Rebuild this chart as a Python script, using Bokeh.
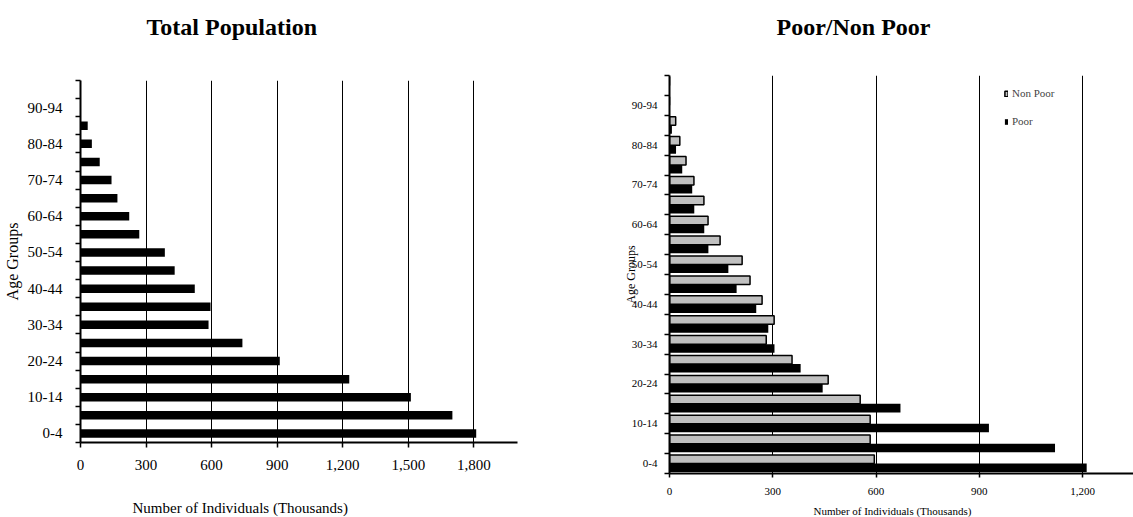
from bokeh.plotting import figure
from bokeh.models import (ColumnDataSource, FixedTicker, Legend, LegendItem,
                          NumeralTickFormatter, Range1d, Title)
from bokeh.layouts import row, column
from bokeh.transform import dodge
from bokeh.embed import file_html
from bokeh.resources import INLINE

# ---------------- data ----------------
age_groups = ["0-4", "5-9", "10-14", "15-19", "20-24", "25-29", "30-34", "35-39",
              "40-44", "45-49", "50-54", "55-59", "60-64", "65-69", "70-74", "75-79",
              "80-84", "85-89", "90-94", "95+"]
total_population = [1811, 1702, 1512, 1230, 912, 741, 586, 595, 523, 431,
                    386, 269, 223, 169, 142, 88, 52, 33, 0, 0]
non_poor = [595, 583, 583, 554, 461, 356, 281, 304, 269, 234,
            211, 147, 112, 100, 71, 48, 30, 18, 0, 0]
poor = [1212, 1120, 928, 671, 445, 381, 305, 287, 252, 195,
        171, 113, 101, 72, 66, 37, 19, 7, 0, 0]
x_ticks_total = [0, 300, 600, 900, 1200, 1500, 1800]
x_ticks_poor = [0, 300, 600, 900, 1200]
x_max_total = 2000
x_max_poor = 1348
title_total = "Total Population"
title_poor = "Poor/Non Poor"
x_title = "Number of Individuals (Thousands)"
y_title = "Age Groups"

n = len(age_groups)
pos = [i + 0.5 for i in range(n)]
src = ColumnDataSource(dict(group=age_groups, pos=pos, total=total_population,
                            non_poor=non_poor, poor=poor))

label_ticks = [pos[i] for i in range(0, n, 2)]
label_overrides = {pos[i]: age_groups[i] for i in range(0, n, 2)}
boundaries = list(range(n + 1))

SERIF = "Liberation Serif"


def style_axes(p, xticks, x_font, y_font, x_out, x_stand, y_stand,
               ylab_font, ylab_stand):
    p.outline_line_color = None
    p.ygrid.visible = False
    p.xgrid.ticker = FixedTicker(ticks=xticks)
    p.xgrid.grid_line_color = "black"
    p.xgrid.grid_line_width = 1

    xa = p.xaxis[0]
    xa.ticker = FixedTicker(ticks=xticks)
    xa.formatter = NumeralTickFormatter(format="0,0")
    xa.axis_line_width = 2
    xa.major_tick_line_width = 1.5
    xa.major_tick_out = x_out
    xa.major_tick_in = 0
    xa.minor_tick_line_color = None
    xa.major_label_text_font = SERIF
    xa.major_label_text_font_size = x_font
    xa.major_label_text_color = "black"
    xa.major_label_standoff = x_stand

    ya = p.yaxis[0]
    ya.ticker = FixedTicker(ticks=label_ticks, minor_ticks=boundaries)
    ya.major_label_overrides = label_overrides
    ya.axis_line_width = 2
    ya.major_tick_out = 0
    ya.major_tick_in = 0
    ya.minor_tick_out = 5
    ya.minor_tick_in = 0
    ya.minor_tick_line_width = 1.5
    ya.minor_tick_line_color = "black"
    ya.major_label_text_font = SERIF
    ya.major_label_text_font_size = y_font
    ya.major_label_text_color = "black"
    ya.major_label_standoff = y_stand
    ya.axis_label = y_title
    ya.axis_label_text_font = SERIF
    ya.axis_label_text_font_style = "normal"
    ya.axis_label_text_font_size = ylab_font
    ya.axis_label_text_color = "black"
    ya.axis_label_standoff = ylab_stand


def spacer(gap):
    return Title(text=" ", text_font_size="1px", standoff=gap)


def add_title(p, text, size, style, offset, place):
    p.add_layout(Title(text=text, text_font=SERIF, text_font_size=size,
                       text_font_style=style, text_color="black",
                       align="left", offset=offset, standoff=0), place)


# ---------------- left: total population ----------------
p1 = figure(width=560, height=517, x_range=Range1d(0, x_max_total), y_range=Range1d(0, n),
            output_backend="svg", toolbar_location=None,
            min_border_left=77, min_border_right=43, min_border_top=80, min_border_bottom=75)
p1.hbar(y="pos", left=0, right="total", height=0.47, source=src,
        fill_color="black", line_color=None)
style_axes(p1, x_ticks_total, "15px", "15px", 5, 12, 13, "16px", 4)
p1.add_layout(spacer(22), "below")
add_title(p1, x_title, "15px", "normal", 52, "below")
p1.add_layout(spacer(38), "above")
add_title(p1, title_total, "24px", "bold", 66, "above")

# ---------------- right: poor / non poor ----------------
p2 = figure(width=573, height=517, x_range=Range1d(0, x_max_poor), y_range=Range1d(0, n),
            output_backend="svg", toolbar_location=None,
            min_border_left=109, min_border_right=0, min_border_top=75, min_border_bottom=44)
r_np = p2.hbar(y=dodge("pos", 0.215), left=0, right="non_poor", height=0.43, source=src,
               fill_color="#C0C0C0", line_color="black", line_width=1.5)
r_p = p2.hbar(y=dodge("pos", -0.215), left=0, right="poor", height=0.43, source=src,
              fill_color="black", line_color=None)
style_axes(p2, x_ticks_poor, "11px", "11px", 4, 10, 7, "12px", -9)

legend = Legend(items=[LegendItem(label="Non Poor", renderers=[r_np]),
                       LegendItem(label="Poor", renderers=[r_p])],
                location=(335, 346), glyph_width=4, glyph_height=7, label_height=12,
                label_width=30, spacing=16, padding=0, margin=0, label_standoff=4,
                border_line_color=None, background_fill_alpha=0,
                label_text_font=SERIF, label_text_font_size="11px")
p2.add_layout(legend)
p2.add_layout(spacer(2), "below")
add_title(p2, x_title, "11px", "normal", 144, "below")
p2.add_layout(spacer(33), "above")
add_title(p2, title_poor, "24px", "bold", 107, "above")

layout = row(p1, column(p2))
open("out.html", "w").write(file_html(layout, INLINE))
